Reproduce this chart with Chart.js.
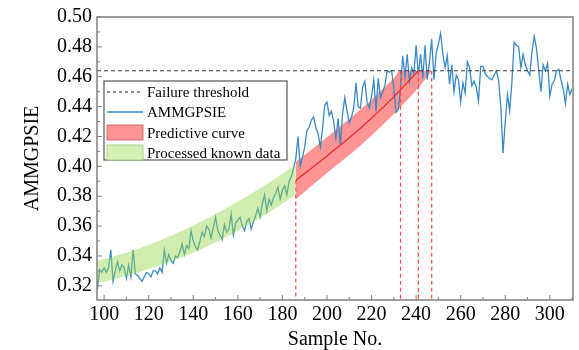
<!DOCTYPE html>
<html>
<head>
<meta charset="utf-8">
<title>AMMGPSIE prediction</title>
<script src="https://cdn.jsdelivr.net/npm/chart.js@4.4.1/dist/chart.umd.min.js"></script>
<style>
  html, body { margin: 0; padding: 0; background: #fff; }
  #wrap { width: 579px; height: 350px; }
</style>
</head>
<body>
<div id="wrap"><canvas id="chart" width="579" height="350"></canvas></div>
<script>
/* ============================================================
   AMMGPSIE degradation + predicted failure crossing
   ============================================================ */

// ── Data ─────────────────────────────────────────────────────
const firstSample = 97;
const ammgpsie = [
  0.318, 0.331, 0.329, 0.332, 0.329, 0.332, 0.344, 0.323, 0.330, 0.336,
  0.330, 0.334, 0.332, 0.325, 0.334, 0.326, 0.344, 0.328, 0.327, 0.325,
  0.323, 0.326, 0.329, 0.328, 0.326, 0.330, 0.330, 0.328, 0.332, 0.329,
  0.344, 0.335, 0.341, 0.337, 0.335, 0.340, 0.339, 0.343, 0.348, 0.341,
  0.347, 0.345, 0.357, 0.350, 0.346, 0.344, 0.350, 0.356, 0.353, 0.360,
  0.358, 0.352, 0.359, 0.366, 0.357, 0.354, 0.351, 0.361, 0.356, 0.358,
  0.368, 0.354, 0.362, 0.364, 0.366, 0.360, 0.357, 0.363, 0.365, 0.358,
  0.363, 0.367, 0.372, 0.366, 0.375, 0.381, 0.370, 0.378, 0.374, 0.379,
  0.382, 0.386, 0.378, 0.384, 0.387, 0.381, 0.390, 0.393, 0.399, 0.405,
  0.420, 0.400, 0.406, 0.413, 0.424, 0.426, 0.431, 0.433, 0.426, 0.422,
  0.413, 0.425, 0.441, 0.443, 0.434, 0.437, 0.430, 0.419, 0.432, 0.414,
  0.435, 0.446, 0.437, 0.429, 0.433, 0.439, 0.456, 0.440, 0.439, 0.453,
  0.457, 0.443, 0.439, 0.447, 0.458, 0.437, 0.459, 0.446, 0.450, 0.454,
  0.464, 0.463, 0.464, 0.452, 0.436, 0.438, 0.452, 0.474, 0.460, 0.475,
  0.457, 0.466, 0.462, 0.481, 0.461, 0.475, 0.459, 0.481, 0.458, 0.470,
  0.485, 0.458, 0.476, 0.482, 0.489, 0.475, 0.466, 0.474, 0.455, 0.468,
  0.450, 0.461, 0.458, 0.443, 0.456, 0.449, 0.470, 0.466, 0.454, 0.457,
  0.453, 0.444, 0.467, 0.467, 0.462, 0.460, 0.459, 0.458, 0.461, 0.464,
  0.458, 0.440, 0.409, 0.430, 0.448, 0.437, 0.457, 0.483, 0.481, 0.480,
  0.466, 0.475, 0.468, 0.464, 0.461, 0.477, 0.487, 0.479, 0.465, 0.450,
  0.468, 0.464, 0.469, 0.447, 0.455, 0.457, 0.464, 0.465, 0.458, 0.452,
  0.442, 0.455, 0.448, 0.452
];

// processed known data band (green)
const knownX     = [97, 105, 115, 125, 135, 145, 155, 165, 175, 186];
const knownUpper = [0.3368, 0.3400, 0.3447, 0.3503, 0.3568, 0.3641, 0.3721, 0.3808, 0.3901, 0.4013];
const knownLower = [0.3218, 0.3246, 0.3287, 0.3337, 0.3392, 0.3455, 0.3529, 0.3610, 0.3701, 0.3809];

// predictive curve band (red)
const predX      = [186, 200, 215, 230, 233, 241, 247];
const predUpper  = [0.403, 0.4195, 0.438, 0.459, 0.464, 0.464, 0.464];
const predCenter = [0.3905, 0.407, 0.4255, 0.4465, 0.4513, 0.464, null];
const predLower  = [0.378, 0.3955, 0.414, 0.435, 0.4398, 0.4525, 0.464];

const threshold = 0.464;
const crossX    = [186, 233, 241, 247];
const crossTop  = [0.3905, 0.464, 0.464, 0.464];

const xMin = 96.8, xMax = 310.4;
const yMin = 0.3105, yMax = 0.50;

const SERIF = "'Liberation Serif', 'Times New Roman', serif";

// ── Helpers ──────────────────────────────────────────────────
const pts = (xs, ys) => xs.map((x, i) => ({ x, y: ys[i] }));

// ── Plugins ──────────────────────────────────────────────────
const frameTicks = {
  id: 'frameTicks',
  afterDraw(chart) {
    const { ctx, chartArea: a, scales: { x, y } } = chart;
    ctx.save();
    ctx.strokeStyle = '#7f7f7f';
    ctx.lineWidth = 1.5;
    ctx.strokeRect(a.left, a.top, a.right - a.left, a.bottom - a.top);

    ctx.lineWidth = 1;
    ctx.beginPath();
    x.ticks.forEach(t => {
      const px = x.getPixelForValue(t.value);
      ctx.moveTo(px, a.bottom); ctx.lineTo(px, a.bottom - 5);
      const mx = x.getPixelForValue(t.value + 10);
      if (mx < a.right) { ctx.moveTo(mx, a.bottom); ctx.lineTo(mx, a.bottom - 3); }
    });
    y.ticks.forEach(t => {
      const py = y.getPixelForValue(t.value);
      ctx.moveTo(a.left, py); ctx.lineTo(a.left + 5, py);
      const my = y.getPixelForValue(t.value - 0.01);
      if (my < a.bottom) { ctx.moveTo(a.left, my); ctx.lineTo(a.left + 3, my); }
    });
    ctx.stroke();
    ctx.restore();
  }
};

const boxLegend = {
  id: 'boxLegend',
  afterDraw(chart) {
    const { ctx, chartArea: a } = chart;
    const left = a.left + 7, top = a.top + 64;
    const w = 183, h = 79;
    ctx.save();
    ctx.fillStyle = '#fff';
    ctx.fillRect(left, top, w, h);
    ctx.strokeStyle = '#555';
    ctx.lineWidth = 1.2;
    ctx.strokeRect(left, top, w, h);

    const sx = left + 3, sw = 36;
    const rows = [top + 11, top + 31, top + 52, top + 72];

    ctx.setLineDash([3, 3]);
    ctx.strokeStyle = '#444';
    ctx.lineWidth = 1.2;
    ctx.beginPath(); ctx.moveTo(sx, rows[0]); ctx.lineTo(sx + sw, rows[0]); ctx.stroke();
    ctx.setLineDash([]);

    ctx.strokeStyle = '#3b88c4';
    ctx.lineWidth = 1.5;
    ctx.beginPath(); ctx.moveTo(sx, rows[1]); ctx.lineTo(sx + sw, rows[1]); ctx.stroke();

    ctx.lineWidth = 1;
    ctx.fillStyle = '#ff9494';
    ctx.strokeStyle = '#d86a6a';
    ctx.fillRect(sx, rows[2] - 8, sw, 15);
    ctx.strokeRect(sx, rows[2] - 8, sw, 15);
    ctx.fillStyle = '#d4f0b4';
    ctx.strokeStyle = '#a9d68a';
    ctx.fillRect(sx, rows[3] - 8, sw, 15);
    ctx.strokeRect(sx, rows[3] - 8, sw, 15);

    ctx.fillStyle = '#000';
    ctx.font = `15px ${SERIF}`;
    ctx.textBaseline = 'middle';
    ['Failure threshold', 'AMMGPSIE', 'Predictive curve', 'Processed known data']
      .forEach((t, i) => ctx.fillText(t, left + 43, rows[i] + 1));
    ctx.restore();
  }
};

// ── Datasets ─────────────────────────────────────────────────
const base = { pointRadius: 0, pointHoverRadius: 0, borderWidth: 1.2, fill: false };

const datasets = [
  { ...base, label: 'Failure threshold', order: 0,
    data: [{ x: xMin, y: threshold }, { x: xMax, y: threshold }],
    borderColor: '#3a3a3a', borderDash: [4, 3] },
  { ...base, label: 'AMMGPSIE', order: 3,
    data: ammgpsie.map((v, i) => ({ x: firstSample + i, y: v })),
    borderColor: '#3b88c4', borderWidth: 1.3 },
  { ...base, label: 'Predictive upper', order: 4,
    data: pts(predX, predUpper), borderWidth: 0, borderColor: 'rgba(0,0,0,0)',
    cubicInterpolationMode: 'monotone', fill: '+1', backgroundColor: 'rgba(255,60,60,0.55)' },
  { ...base, label: 'Predictive lower', order: 4,
    data: pts(predX, predLower), borderWidth: 0, borderColor: 'rgba(0,0,0,0)',
    cubicInterpolationMode: 'monotone' },
  { ...base, label: 'Known upper', order: 1,
    data: pts(knownX, knownUpper), borderWidth: 0, borderColor: 'rgba(0,0,0,0)',
    cubicInterpolationMode: 'monotone', fill: '+1', backgroundColor: 'rgba(150,215,80,0.45)' },
  { ...base, label: 'Known lower', order: 1,
    data: pts(knownX, knownLower), borderWidth: 0, borderColor: 'rgba(0,0,0,0)',
    cubicInterpolationMode: 'monotone' },
  { ...base, label: 'Predictive curve', order: 2,
    data: pts(predX, predCenter), borderColor: '#ee2a2a', borderWidth: 1.3,
    cubicInterpolationMode: 'monotone' }
];

crossX.forEach((cx, i) => {
  datasets.push({ ...base, label: 'cross' + i, order: 2,
    data: [{ x: cx, y: crossTop[i] }, { x: cx, y: yMin }],
    borderColor: '#ff4a4a', borderDash: [4, 3] });
});

// ── Chart ────────────────────────────────────────────────────
new Chart(document.getElementById('chart'), {
  type: 'line',
  data: { datasets },
  options: {
    responsive: false,
    animation: false,
    events: [],
    layout: { padding: { left: 0, right: 6, top: 15, bottom: 0 } },
    plugins: { legend: { display: false }, tooltip: { enabled: false } },
    scales: {
      x: {
        type: 'linear', min: xMin, max: xMax,
        afterFit: s => { s.height = 50; },
        grid: { display: false, drawTicks: false },
        border: { display: false },
        ticks: { stepSize: 20, includeBounds: false, padding: 3, color: '#000',
                 font: { family: SERIF, size: 20 }, maxRotation: 0 },
        title: { display: true, text: 'Sample No.', color: '#000',
                 font: { family: SERIF, size: 20, lineHeight: 1.0 }, padding: { top: 0, bottom: 0 } }
      },
      y: {
        type: 'linear', min: yMin, max: yMax,
        afterFit: s => { s.width = 97; },
        grid: { display: false, drawTicks: false },
        border: { display: false },
        ticks: { stepSize: 0.02, includeBounds: false, padding: 5, color: '#000',
                 font: { family: SERIF, size: 20 }, callback: v => v.toFixed(2) },
        title: { display: true, text: 'AMMGPSIE', color: '#000',
                 font: { family: SERIF, size: 20 }, padding: { top: 21, bottom: 0 } }
      }
    }
  },
  plugins: [frameTicks, boxLegend]
});
</script>
</body>
</html>
